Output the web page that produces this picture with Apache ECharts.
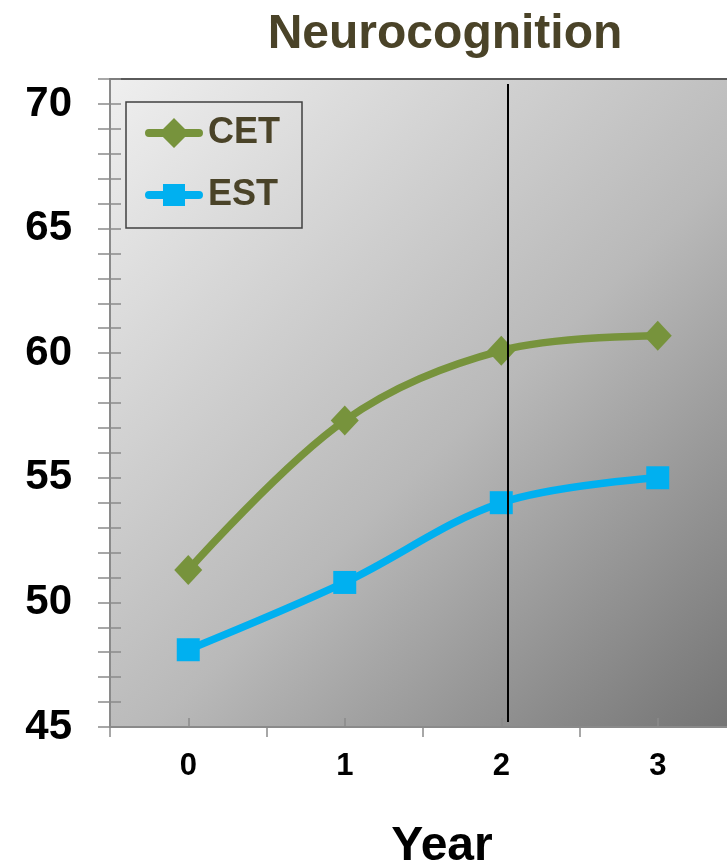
<!DOCTYPE html>
<html>
<head>
<meta charset="utf-8">
<script src="https://cdn.jsdelivr.net/npm/echarts@6/dist/echarts.min.js"></script>
<style>
  html, body { margin: 0; padding: 0; background: #ffffff; }
  #chart { width: 727px; height: 865px; }
</style>
</head>
<body>
<div id="chart"></div>
<script>
// Study years on the horizontal axis
const years = ['0', '1', '2', '3'];
// Neurocognition composite scores per arm
const cetScores = [51.3, 57.3, 60.1, 60.7];
const estScores = [48.1, 50.8, 54.0, 55.0];
// Vertical reference marker (position on the year scale, and its vertical span)
const markerYear = 2.04;
const markerSpan = [70.8, 45.2];
// Value axis range and label step
const yMin = 45, yMax = 71, yLabelStep = 5;

const fontFamily = '"Liberation Sans", Arial, sans-serif';
const tickGray = '#8a8a8a';
const cetColor = '#77933c';
const estColor = '#00b0f0';

// Legend glyphs: a thick round-capped line with the series marker on top
const capLine = 'M4,11 L54,11 A4,4 0 0 1 54,19 L4,19 A4,4 0 0 1 4,11 Z';
const cetIcon = 'path://' + capLine + ' M29,0 L44,15 L29,30 L14,15 Z';
const estIcon = 'path://M0,0 L0.01,0 Z ' + capLine + ' M18,4 L40,4 L40,26 L18,26 Z M58,30 L57.99,30 Z';

const chart = echarts.init(document.getElementById('chart'), null, { renderer: 'canvas' });

chart.setOption({
  animation: false,
  title: [
    {
      text: 'Neurocognition',
      left: 440, top: 6, textAlign: 'center',
      textStyle: { fontFamily, fontWeight: 'bold', fontSize: 48, color: '#4a4328' }
    },
    {
      text: 'Year',
      left: 437, top: 818, textAlign: 'center',
      textStyle: { fontFamily, fontWeight: 'bold', fontSize: 48, color: '#000000' }
    }
  ],
  legend: {
    orient: 'vertical',
    left: 126, top: 102,
    padding: [13, 22, 15, 19],
    itemWidth: 58, itemHeight: 30, itemGap: 26,
    borderColor: '#404040', borderWidth: 1.5,
    backgroundColor: 'transparent',
    data: [
      { name: 'CET', icon: cetIcon, itemStyle: { color: cetColor } },
      { name: 'EST', icon: estIcon, itemStyle: { color: estColor } }
    ],
    textStyle: { fontFamily, fontWeight: 'bold', fontSize: 36, lineHeight: 36, color: '#4a4328' }
  },
  grid: {
    left: 110, top: 79, width: 626, bottom: 138,
    outerBoundsMode: 'none',
    containLabel: false,
    show: true, borderWidth: 0,
    backgroundColor: new echarts.graphic.LinearGradient(0, 0, 1, 1, [
      { offset: 0, color: '#efefef' },
      { offset: 0.55, color: '#b9b9b9' },
      { offset: 1, color: '#737373' }
    ])
  },
  xAxis: [
    {
      type: 'category', data: years, position: 'bottom', boundaryGap: true,
      axisLine: { onZero: false, lineStyle: { color: tickGray, width: 2 } },
      axisTick: { show: true, alignWithLabel: false, length: 10, lineStyle: { color: tickGray, width: 1.5 } },
      axisLabel: { fontFamily, fontWeight: 'bold', fontSize: 31, color: '#000000', margin: 24 },
      splitLine: { show: false }
    },
    {
      type: 'category', data: years, position: 'bottom', boundaryGap: true,
      axisLine: { show: false, onZero: false },
      axisTick: { show: true, alignWithLabel: true, inside: true, length: 9, lineStyle: { color: tickGray, width: 1.5 } },
      axisLabel: { show: false },
      splitLine: { show: false }
    },
    {
      type: 'value', min: -0.5, max: 3.5, show: false,
      axisLine: { onZero: false }
    },
    {
      type: 'category', data: years, position: 'top',
      axisLine: { onZero: false, lineStyle: { color: '#5a5a5a', width: 2 } },
      axisTick: { show: false }, axisLabel: { show: false }, splitLine: { show: false }
    }
  ],
  yAxis: [
    {
      type: 'value', min: yMin, max: yMax, interval: 1, position: 'left',
      axisLine: { show: true, onZero: false, lineStyle: { color: tickGray, width: 2 } },
      axisTick: { show: true, length: 12, lineStyle: { color: tickGray, width: 1.5 } },
      axisLabel: {
        fontFamily, fontWeight: 'bold', fontSize: 42, color: '#000000', margin: 38,
        formatter: v => (v % yLabelStep === 0 ? String(v) : '')
      },
      splitLine: { show: false }
    },
    {
      type: 'value', min: yMin, max: yMax, interval: 1, position: 'left',
      axisLine: { show: false, onZero: false },
      axisTick: { show: true, inside: true, length: 11, lineStyle: { color: tickGray, width: 1.5 } },
      axisLabel: { show: false },
      splitLine: { show: false }
    }
  ],
  series: [
    {
      name: 'CET', type: 'line', data: cetScores,
      xAxisIndex: 0, yAxisIndex: 0,
      smooth: 0.35,
      symbol: 'diamond', symbolSize: [28, 30],
      lineStyle: { color: cetColor, width: 7.5 },
      itemStyle: { color: cetColor },
      z: 3
    },
    {
      name: 'EST', type: 'line', data: estScores,
      xAxisIndex: 0, yAxisIndex: 0,
      smooth: 0.35,
      symbol: 'rect', symbolSize: 23,
      lineStyle: { color: estColor, width: 7.5 },
      itemStyle: { color: estColor },
      z: 3
    },
    {
      name: 'marker', type: 'line', data: [],
      xAxisIndex: 2, yAxisIndex: 0,
      silent: true, z: 5,
      markLine: {
        silent: true, symbol: 'none', z: 5,
        label: { show: false },
        lineStyle: { color: '#000000', width: 2, type: 'solid' },
        emphasis: { disabled: true },
        data: [[
          { coord: [markerYear, markerSpan[0]] },
          { coord: [markerYear, markerSpan[1]] }
        ]]
      }
    }
  ]
});
</script>
</body>
</html>
